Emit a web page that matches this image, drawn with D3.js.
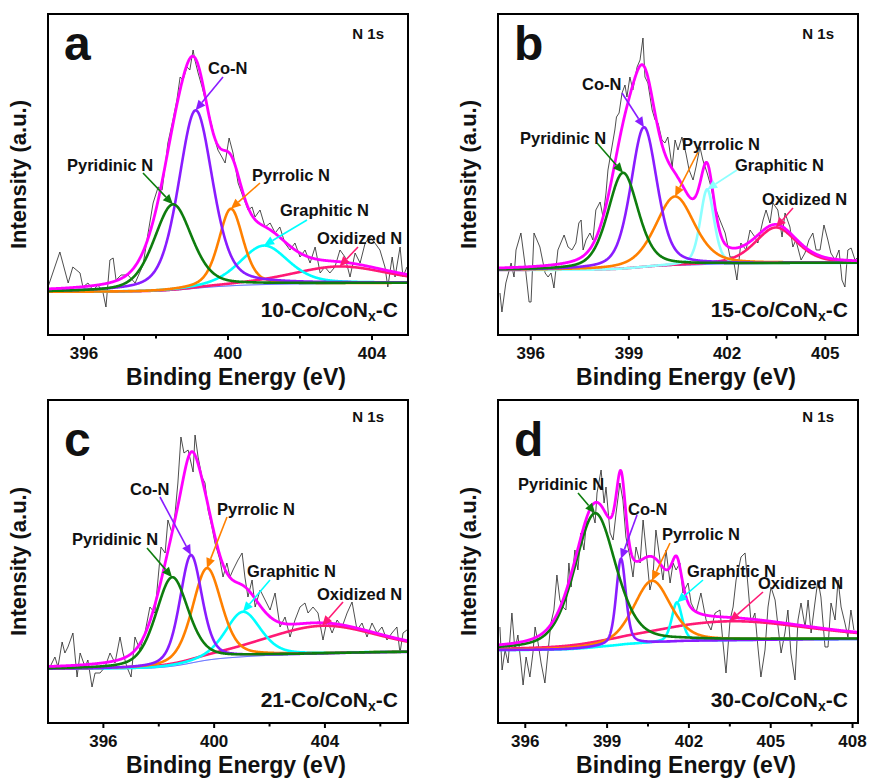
<!DOCTYPE html>
<html>
<head>
<meta charset="utf-8">
<script src="https://cdn.jsdelivr.net/npm/d3@7"></script>
<style>
  body { margin: 0; background: #fff; }
  svg { display: block; }
  text { font-family: "Liberation Sans", Arial, sans-serif; font-weight: bold; fill: #111; }
</style>
</head>
<body>
<svg id="fig" width="875" height="779"></svg>
<script>
// ---- N 1s XPS spectra of the four Co/CoNx-C samples ----

const panelLetters = ['a', 'b', 'c', 'd'];
const sampleLoadings = ['10', '15', '21', '30'];
const componentNames = ['Pyridinic N', 'Co-N', 'Pyrrolic N', 'Graphitic N', 'Oxidized N'];

// binding energy window of each panel (eV)
const energyRanges = [[395, 405], [395, 406], [394, 407], [395, 408.2]];
const majorTicks = [[396, 400, 404], [396, 399, 402, 405], [396, 400, 404], [396, 399, 402, 405, 408]];
const minorTicks = [[398, 402], [397.5, 400.5, 403.5], [398, 402, 406], [397.5, 400.5, 403.5, 406.5]];
// intensity window (a.u.)
const intensityRanges = [[0, 321], [0, 321], [0, 323], [0, 323]];

// fitted components, same order as componentNames: [centre eV, height a.u., FWHM eV]
const fitA = [[398.47, 86, 1.25], [399.10, 178, 1.12], [400.08, 77, 0.80], [401.00, 39, 1.60], [403.10, 17, 3.20]];
const fitB = [[398.82, 96, 1.10], [399.46, 140, 0.95], [400.41, 69, 1.40], [401.39, 75, 0.50], [403.49, 36, 1.50]];
const fitC = [[398.48, 89, 1.40], [399.16, 108, 0.95], [399.74, 92, 1.25], [401.04, 45, 1.50], [403.90, 28, 5.00]];
const fitD = [[398.56, 134, 1.80], [399.51, 86, 0.42], [400.65, 62, 1.60], [401.56, 39, 0.45], [403.50, 19, 7.00]];

// Shirley background levels at the low / high binding energy ends
const backgroundA = [43, 52];
const backgroundB = [65, 72];
const backgroundC = [54, 71];
const backgroundD = [73, 84];

// measured spectra: [binding energy eV, intensity a.u.]
const rawA = [
  [395.00, 48], [395.33, 83], [395.56, 52], [395.69, 68], [395.89, 62], [395.97, 48], [396.11, 52],
  [396.25, 45], [396.39, 50], [396.53, 42], [396.61, 28], [396.72, 75], [396.81, 77], [396.89, 55],
  [397.03, 60], [397.22, 60], [397.42, 52], [397.64, 70], [397.78, 102], [397.92, 132], [398.06, 148],
  [398.17, 145], [398.25, 168], [398.33, 192], [398.47, 215], [398.58, 235], [398.67, 258], [398.75, 255],
  [398.86, 268], [398.94, 265], [399.03, 285], [399.08, 275], [399.17, 262], [399.28, 248], [399.42, 228],
  [399.56, 208], [399.64, 195], [399.72, 185], [399.83, 178], [399.92, 172], [400.03, 197], [400.14, 182],
  [400.28, 152], [400.42, 138], [400.56, 125], [400.67, 128], [400.75, 118], [400.89, 125], [401.03, 108],
  [401.17, 112], [401.31, 102], [401.44, 108], [401.58, 92], [401.72, 85], [401.86, 92], [402.00, 78],
  [402.14, 85], [402.28, 72], [402.42, 88], [402.56, 62], [402.69, 68], [402.83, 62], [402.97, 68],
  [403.11, 85], [403.25, 78], [403.39, 58], [403.53, 82], [403.67, 72], [403.81, 92], [403.94, 98],
  [404.08, 92], [404.22, 85], [404.36, 68], [404.44, 48], [404.56, 78], [404.64, 58], [404.78, 88],
  [404.86, 58], [404.97, 68]
];
const rawB = [
  [395.06, 42], [395.12, 23], [395.24, 52], [395.40, 72], [395.49, 58], [395.55, 85], [395.70, 102],
  [395.82, 72], [395.95, 33], [396.01, 33], [396.10, 102], [396.28, 88], [396.44, 62], [396.53, 58],
  [396.62, 62], [396.71, 47], [396.83, 85], [397.02, 100], [397.14, 88], [397.26, 85], [397.38, 92],
  [397.47, 112], [397.54, 115], [397.60, 85], [397.69, 95], [397.81, 102], [397.90, 95], [397.99, 125],
  [398.12, 133], [398.21, 118], [398.30, 142], [398.36, 165], [398.45, 182], [398.57, 205], [398.62, 218],
  [398.70, 222], [398.79, 242], [398.88, 250], [398.94, 238], [399.03, 258], [399.12, 245], [399.25, 268],
  [399.34, 275], [399.43, 297], [399.49, 258], [399.58, 252], [399.71, 225], [399.80, 215], [399.89, 212],
  [400.01, 195], [400.10, 192], [400.19, 198], [400.32, 168], [400.41, 195], [400.50, 185], [400.62, 198],
  [400.74, 182], [400.84, 165], [400.96, 155], [401.05, 168], [401.17, 188], [401.26, 175], [401.39, 162],
  [401.51, 148], [401.63, 128], [401.78, 115], [401.94, 102], [402.09, 78], [402.18, 78], [402.30, 55],
  [402.42, 92], [402.58, 85], [402.70, 105], [402.85, 98], [402.94, 92], [403.10, 115], [403.19, 125],
  [403.31, 112], [403.40, 132], [403.55, 125], [403.68, 98], [403.77, 122], [403.92, 108], [404.01, 88],
  [404.10, 95], [404.26, 75], [404.38, 82], [404.50, 95], [404.62, 102], [404.72, 85], [404.84, 85],
  [404.96, 110], [405.08, 95], [405.17, 82], [405.30, 75], [405.42, 85], [405.51, 55], [405.60, 48],
  [405.69, 85], [405.79, 87], [405.91, 75], [406.00, 78]
];
const rawC = [
  [394.07, 56], [394.25, 66], [394.36, 56], [394.51, 81], [394.61, 70], [394.72, 76], [394.90, 90],
  [395.05, 46], [395.16, 70], [395.34, 56], [395.44, 63], [395.59, 36], [395.70, 50], [395.88, 50],
  [396.06, 56], [396.24, 70], [396.42, 60], [396.60, 86], [396.71, 70], [396.85, 56], [397.00, 46],
  [397.14, 86], [397.32, 73], [397.50, 90], [397.68, 116], [397.86, 110], [397.97, 143], [398.08, 176],
  [398.23, 170], [398.33, 203], [398.48, 190], [398.59, 210], [398.69, 240], [398.80, 286], [398.91, 270],
  [399.06, 273], [399.24, 251], [399.31, 288], [399.42, 266], [399.56, 246], [399.67, 240], [399.78, 213],
  [399.92, 196], [400.03, 180], [400.21, 163], [400.32, 146], [400.46, 160], [400.57, 146], [400.68, 153],
  [400.86, 163], [401.01, 170], [401.11, 146], [401.22, 126], [401.37, 143], [401.48, 116], [401.66, 133],
  [401.84, 123], [402.02, 113], [402.20, 130], [402.38, 96], [402.56, 106], [402.74, 86], [402.92, 103],
  [403.10, 116], [403.28, 120], [403.39, 110], [403.57, 116], [403.75, 110], [403.93, 83], [404.08, 103],
  [404.26, 90], [404.44, 103], [404.62, 96], [404.80, 110], [404.98, 121], [405.16, 93], [405.34, 100],
  [405.52, 86], [405.70, 100], [405.88, 90], [406.06, 96], [406.24, 83], [406.42, 90], [406.60, 96],
  [406.71, 70], [406.82, 90], [406.96, 93]
];
const rawD = [
  [395.07, 96], [395.15, 53], [395.26, 73], [395.37, 60], [395.51, 110], [395.62, 73], [395.73, 88],
  [395.84, 60], [395.92, 38], [396.03, 66], [396.17, 46], [396.28, 70], [396.36, 96], [396.47, 80],
  [396.58, 60], [396.72, 40], [396.83, 70], [396.94, 100], [397.05, 113], [397.16, 148], [397.27, 123],
  [397.38, 116], [397.49, 113], [397.60, 160], [397.68, 136], [397.82, 173], [397.93, 153], [398.04, 190],
  [398.15, 173], [398.26, 206], [398.41, 216], [398.56, 200], [398.63, 230], [398.78, 253], [398.89, 220],
  [398.96, 236], [399.11, 190], [399.22, 183], [399.33, 210], [399.47, 240], [399.58, 223], [399.69, 186],
  [399.84, 166], [399.95, 146], [400.06, 176], [400.21, 160], [400.32, 203], [400.43, 173], [400.57, 133],
  [400.68, 146], [400.79, 193], [400.94, 163], [401.05, 143], [401.16, 173], [401.31, 140], [401.42, 160],
  [401.53, 153], [401.67, 160], [401.78, 130], [401.97, 140], [402.08, 120], [402.26, 110], [402.44, 130],
  [402.63, 103], [402.81, 93], [402.96, 110], [403.14, 113], [403.25, 80], [403.36, 50], [403.51, 103],
  [403.62, 116], [403.73, 143], [403.91, 166], [404.06, 170], [404.17, 136], [404.28, 100], [404.42, 110],
  [404.53, 76], [404.64, 46], [404.79, 73], [404.90, 116], [405.01, 136], [405.16, 123], [405.27, 96],
  [405.38, 70], [405.52, 90], [405.63, 113], [405.74, 70], [405.89, 43], [406.00, 103], [406.11, 120],
  [406.26, 96], [406.37, 123], [406.48, 90], [406.62, 120], [406.73, 143], [406.84, 126], [406.99, 76],
  [407.10, 76], [407.21, 120], [407.36, 103], [407.47, 143], [407.58, 116], [407.72, 100], [407.83, 86],
  [407.94, 113], [408.05, 93]
];

const fits = [fitA, fitB, fitC, fitD];
const backgrounds = [backgroundA, backgroundB, backgroundC, backgroundD];
const spectra = [rawA, rawB, rawC, rawD];

// ---- layout ----
const colLeft = [48, 498];
const rowTop = [14, 400];
const frameW = 360;
const rowH = [321, 323];

const compColors = ['#0e7d0e', '#8a1cff', '#ff8000', '#00ffff', '#ff1a75'];
const envelopeColor = '#ff00ff';

// annotation layout, relative to the frame: text [left, middle], arrow tail [x, y]
const annotations = [
  { text: [[19, 151], [160, 54], [204, 161], [232, 196], [269, 224]],
    tail: [[95, 159], [175, 63], [212, 169], [259, 206], [310, 233]] },
  { text: [[22, 124], [84, 70], [184, 130], [237, 151], [264, 185]],
    tail: [[99, 129], [124, 79], [200, 138], [239, 156], [295, 194]] },
  { text: [[24, 139], [82, 89], [169, 109], [199, 171], [269, 194]],
    tail: [[99, 148], [112, 97], [179, 117], [222, 180], [295, 202]] },
  { text: [[20, 84], [130, 109], [164, 134], [189, 171], [260, 183]],
    tail: [[80, 93], [139, 115], [172, 143], [205, 180], [265, 192]] }
];

// pseudo-Voigt line shape (Gaussian/Lorentzian sum)
const lorentzShare = 0.4;
function peak(e, p) {
  const u = (e - p[0]) / p[2];
  const g = Math.exp(-4 * Math.LN2 * u * u);
  const l = 1 / (1 + 4 * u * u);
  return p[1] * (lorentzShare * l + (1 - lorentzShare) * g);
}

const svg = d3.select('#fig');
const defs = svg.append('defs');

panelLetters.forEach((letter, i) => {
  const col = i % 2, row = Math.floor(i / 2);
  const left = colLeft[col], top = rowTop[row], h = rowH[row];
  const g = svg.append('g').attr('transform', `translate(${left},${top})`);

  const x = d3.scaleLinear().domain(energyRanges[i]).range([0, frameW]);
  const y = d3.scaleLinear().domain(intensityRanges[i]).range([h, 0]);

  defs.append('clipPath').attr('id', 'clip-' + letter)
    .append('rect').attr('width', frameW).attr('height', h);
  const plot = g.append('g').attr('clip-path', `url(#clip-${letter})`);

  // evaluate fit on a fine energy grid, Shirley background from cumulative area
  const fit = fits[i];
  const [lo, hi] = energyRanges[i];
  const grid = d3.range(lo, hi + 0.005, 0.01);
  const sum = grid.map(e => d3.sum(fit, p => peak(e, p)));
  const cum = Array.from(d3.cumsum(sum));
  const total = cum[cum.length - 1];
  const [b0, b1] = backgrounds[i];
  const bg = cum.map(c => b0 + (b1 - b0) * c / total);

  const line = d3.line().x(d => x(d[0])).y(d => y(d[1]));

  // measured spectrum
  plot.append('path')
    .datum(spectra[i])
    .attr('d', line)
    .attr('fill', 'none')
    .attr('stroke', '#222')
    .attr('stroke-width', 0.8);

  // background
  plot.append('path')
    .datum(grid.map((e, k) => [e, bg[k]]))
    .attr('d', line)
    .attr('fill', 'none')
    .attr('stroke', '#2a3cff')
    .attr('stroke-width', 1);

  // components (oxidized first so pyridinic ends on top)
  const order = [4, 3, 2, 1, 0];
  order.forEach(j => {
    plot.append('path')
      .datum(grid.map((e, k) => [e, bg[k] + peak(e, fit[j])]))
      .attr('d', line)
      .attr('fill', 'none')
      .attr('stroke', (i === 1 && j === 3) ? '#8cffff' : compColors[j])
      .attr('stroke-width', 2.6);
  });

  // envelope
  plot.append('path')
    .datum(grid.map((e, k) => [e, bg[k] + sum[k]]))
    .attr('d', line)
    .attr('fill', 'none')
    .attr('stroke', envelopeColor)
    .attr('stroke-width', 2.8);

  // annotations with arrows pointing at each component's apex
  const ann = annotations[i];
  fit.forEach((p, j) => {
    const color = (i === 1 && j === 3) ? '#8cffff' : compColors[j];
    const k = d3.bisectCenter(grid, p[0]);
    const ax = x(p[0]), ay = y(bg[k] + p[1]);
    const [tx, ty] = ann.tail[j];
    const ang = Math.atan2(ay - ty, ax - tx);
    const headLen = 10, headW = 4.5;
    const bx = ax - headLen * Math.cos(ang), by = ay - headLen * Math.sin(ang);
    g.append('line')
      .attr('x1', tx).attr('y1', ty).attr('x2', bx).attr('y2', by)
      .attr('stroke', color).attr('stroke-width', 1.6);
    const nx = -Math.sin(ang) * headW, ny = Math.cos(ang) * headW;
    g.append('path')
      .attr('d', `M${ax},${ay}L${bx + nx},${by + ny}L${bx - nx},${by - ny}Z`)
      .attr('fill', color);
    g.append('text')
      .attr('x', ann.text[j][0]).attr('y', ann.text[j][1])
      .attr('dy', '0.35em')
      .attr('font-size', 16.5)
      .text(componentNames[j]);
  });

  // frame
  g.append('rect')
    .attr('width', frameW).attr('height', h)
    .attr('fill', 'none').attr('stroke', '#000').attr('stroke-width', 2);

  // bottom axis, outward ticks
  const axisG = g.append('g').attr('transform', `translate(0,${h})`);
  axisG.selectAll('.major').data(majorTicks[i]).join('line')
    .attr('x1', d => x(d)).attr('x2', d => x(d))
    .attr('y1', 0).attr('y2', 5)
    .attr('stroke', '#000').attr('stroke-width', 2);
  axisG.selectAll('.minor').data(minorTicks[i]).join('line')
    .attr('x1', d => x(d)).attr('x2', d => x(d))
    .attr('y1', 0).attr('y2', 3.5)
    .attr('stroke', '#000').attr('stroke-width', 2);
  axisG.selectAll('.ticklabel').data(majorTicks[i]).join('text')
    .attr('x', d => x(d)).attr('y', 24)
    .attr('text-anchor', 'middle')
    .attr('font-size', 17)
    .text(d => d);

  g.append('text')
    .attr('x', frameW / 2 + 8).attr('y', h + 50)
    .attr('text-anchor', 'middle')
    .attr('font-size', 23)
    .text('Binding Energy (eV)');

  g.append('text')
    .attr('transform', `translate(-22,${h / 2}) rotate(-90)`)
    .attr('text-anchor', 'middle')
    .attr('font-size', 22)
    .text('Intensity (a.u.)');

  // panel letter, core level, sample name
  g.append('text')
    .attr('x', 16).attr('y', row === 0 ? 46 : 56)
    .attr('font-size', 48)
    .text(letter);

  g.append('text')
    .attr('x', 336).attr('y', row === 0 ? 25 : 22)
    .attr('text-anchor', 'end')
    .attr('font-size', 15)
    .text('N 1s');

  const name = g.append('text')
    .attr('x', 350).attr('y', h - (row === 0 ? 18 : 16))
    .attr('text-anchor', 'end')
    .attr('font-size', 21);
  name.append('tspan').text(sampleLoadings[i] + '-Co/CoN');
  name.append('tspan').attr('font-size', 14).attr('dy', 4).text('x');
  name.append('tspan').attr('dy', -4).text('-C');
});
</script>
</body>
</html>
